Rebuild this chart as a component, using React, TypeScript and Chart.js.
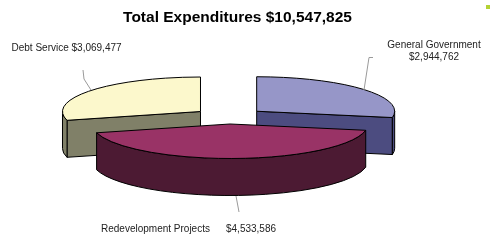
import React, { useEffect, useRef } from 'react';
import { Chart, registerables } from 'chart.js';

Chart.register(...registerables);

// ---- data ----
const categories = ['General Government', 'Redevelopment Projects', 'Debt Service'];
const values = [2944762, 4533586, 3069477];
const topColors = ['#9696C8', '#993366', '#FCF8CC'];
const sideColors = ['#4C4C80', '#4C1A33', '#808068'];

const total = values.reduce((s, v) => s + v, 0);
const fmt = (v: number) => '$' + v.toLocaleString('en-US');

// ---- 3D geometry (styles) ----
const CX = 229;
const CY = 117;
const K = 0.25; // vertical squash
const DEPTH = 37;
const RADIUS = 138;
const EXPLODE = [36, 28, 36];

const FONT = '"Liberation Sans", Arial, sans-serif';

const pie3d = {
  id: 'pie3d',
  beforeDatasetsDraw(chart: any) {
    const ctx: CanvasRenderingContext2D = chart.ctx;
    const arcs: any[] = chart.getDatasetMeta(0).data;
    const mids = arcs.map((a) => (a.startAngle + a.endAngle) / 2);
    const order = arcs.map((_, i) => i).sort((i, j) => Math.sin(mids[i]) - Math.sin(mids[j]));
    for (const i of order) {
      const a = arcs[i];
      const s = a.startAngle;
      const e = a.endAngle;
      const mid = mids[i];
      const off = EXPLODE[i];
      const sx = CX + Math.cos(mid) * off;
      const sy = CY + K * Math.sin(mid) * off;
      const R = a.outerRadius;
      const pt = (t: number) => [sx + R * Math.cos(t), sy + K * R * Math.sin(t)];
      ctx.save();
      ctx.lineWidth = 1;
      ctx.strokeStyle = '#000';
      ctx.lineJoin = 'round';
      ctx.fillStyle = sideColors[i];
      // radial cut faces that face the viewer
      const faces: [number, number][] = [
        [s, s - Math.PI / 2],
        [e, e + Math.PI / 2],
      ];
      for (const [t, n] of faces) {
        if (Math.sin(n) > 1e-6) {
          const p = pt(t);
          ctx.beginPath();
          ctx.moveTo(sx, sy);
          ctx.lineTo(p[0], p[1]);
          ctx.lineTo(p[0], p[1] + DEPTH);
          ctx.lineTo(sx, sy + DEPTH);
          ctx.closePath();
          ctx.fill();
          ctx.stroke();
        }
      }
      // outer curved wall (front half only)
      for (let k = -2; k <= 2; k++) {
        const lo = Math.max(s, 2 * Math.PI * k);
        const hi = Math.min(e, 2 * Math.PI * k + Math.PI);
        if (hi > lo) {
          ctx.beginPath();
          ctx.ellipse(sx, sy, R, K * R, 0, lo, hi);
          ctx.ellipse(sx, sy + DEPTH, R, K * R, 0, hi, lo, true);
          ctx.closePath();
          ctx.fill();
          ctx.stroke();
        }
      }
      // top face drawn by the library's arc element, squashed
      ctx.save();
      ctx.translate(sx, sy);
      ctx.scale(1, K);
      ctx.translate(-a.x, -a.y);
      a.draw(ctx);
      ctx.restore();
      // top outline
      ctx.beginPath();
      ctx.moveTo(sx, sy);
      ctx.ellipse(sx, sy, R, K * R, 0, s, e);
      ctx.closePath();
      ctx.stroke();
      ctx.restore();
    }
    return false;
  },
  afterDraw(chart: any) {
    const ctx: CanvasRenderingContext2D = chart.ctx;
    ctx.save();
    // leader lines
    ctx.strokeStyle = '#9a9a9a';
    ctx.lineWidth = 1;
    const leaders = [
      [[373, 57.5], [369, 57.5], [364, 90]],
      [[236, 196], [239, 212]],
      [[83, 70], [84, 79], [91, 90]],
    ];
    for (const l of leaders) {
      ctx.beginPath();
      l.forEach((p, j) => (j === 0 ? ctx.moveTo(p[0], p[1]) : ctx.lineTo(p[0], p[1])));
      ctx.stroke();
    }
    // labels
    ctx.fillStyle = '#222';
    ctx.font = '10px ' + FONT;
    ctx.textBaseline = 'alphabetic';
    ctx.textAlign = 'left';
    ctx.fillText(`${categories[2]} ${fmt(values[2])}`, 11.5, 51);
    ctx.fillText(categories[1], 101, 232);
    ctx.fillText(fmt(values[1]), 226, 232);
    ctx.textAlign = 'center';
    ctx.fillText(categories[0], 434, 47.5);
    ctx.fillText(fmt(values[0]), 434, 60);
    // small marker at top right
    ctx.fillStyle = '#B4D234';
    ctx.fillRect(486, 5, 4, 4);
    ctx.restore();
  },
};

export default function App() {
  const ref = useRef<HTMLCanvasElement | null>(null);
  useEffect(() => {
    if (!ref.current) return;
    const chart = new Chart(ref.current, {
      type: 'pie',
      data: {
        labels: categories,
        datasets: [
          {
            data: values,
            backgroundColor: topColors,
            borderWidth: 0,
            clip: false,
          } as any,
        ],
      },
      options: {
        responsive: false,
        animation: false,
        events: [],
        radius: RADIUS,
        layout: { padding: { right: 15 } },
        plugins: {
          legend: { display: false },
          tooltip: { enabled: false },
          title: {
            display: true,
            text: `Total Expenditures ${fmt(total)}`,
            color: '#000',
            font: { family: FONT, size: 15.5, weight: 'bold' },
            padding: { top: 8, bottom: 0 },
          },
        },
      } as any,
      plugins: [pie3d],
    });
    return () => chart.destroy();
  }, []);
  return (
    <div style={{ position: 'fixed', left: 0, top: 0, width: 490, height: 245, background: '#fff' }}>
      <canvas ref={ref} width={490} height={245} style={{ width: 490, height: 245, display: 'block' }} />
    </div>
  );
}
